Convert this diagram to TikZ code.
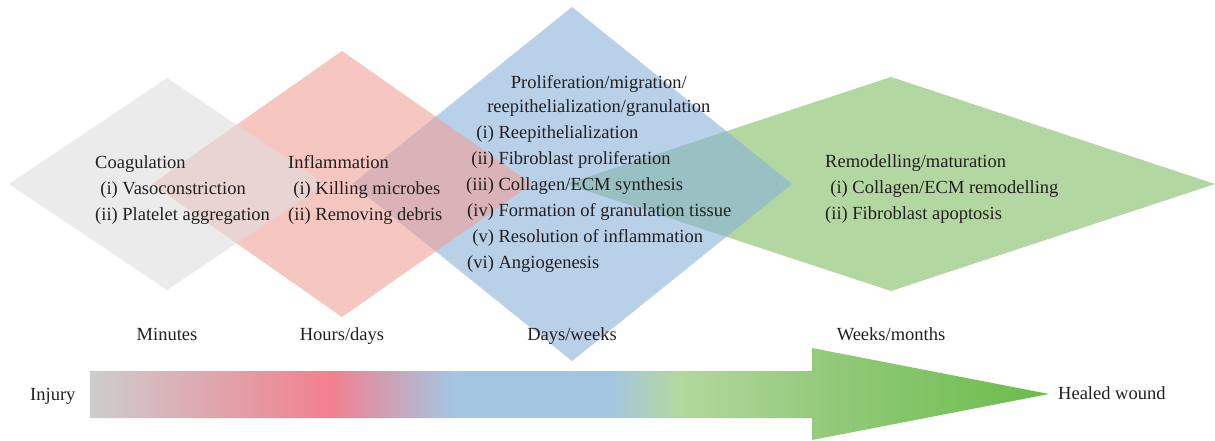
\documentclass[tikz,border=0pt]{standalone}
\usepackage{fontspec}
\setmainfont{Liberation Serif}
\usepackage{tikz}
\definecolor{textDark}{RGB}{35,31,32}
\definecolor{coagColor}{RGB}{222,222,222}
\definecolor{inflamColor}{RGB}{240,160,152}
\definecolor{prolifColor}{RGB}{137,177,217}
\definecolor{remodColor}{RGB}{128,188,96}
\definecolor{barGray}{RGB}{205,205,205}
\definecolor{barPink}{RGB}{242,128,143}
\definecolor{barBlue}{RGB}{163,198,226}
\definecolor{barLight}{RGB}{178,216,156}
\definecolor{barMid}{RGB}{150,203,126}
\definecolor{barGreen}{RGB}{108,189,76}
\pgfdeclarehorizontalshading{healShading}{100bp}{color(0bp)=(barGray); color(25bp)=(barGray);
  color(37.5bp)=(barPink); color(44bp)=(barBlue); color(52bp)=(barBlue); color(55.8bp)=(barLight);
  color(62.6bp)=(barMid); color(74.5bp)=(barGreen); color(100bp)=(barGreen)}

\begin{document}
\begin{tikzpicture}[x=1pt, y=-1pt, font=\fontsize{18.5}{26}\selectfont, text=textDark]
        \tikzset{
           phase/.style={
                        fill opacity=0.6
                       },
           phaseList/.style={
                        anchor=base west,
                        inner sep=0pt
                       },
           timeLabel/.style={
                        anchor=base,
                        inner sep=0pt
                       },
           endLabel/.style={
                        anchor=base west,
                        inner sep=0pt
                       },
                 };
        \useasboundingbox (0,0) rectangle (1215,440);
    %--------------------
        \fill[phase, remodColor]  (566,184) -- (891,77)  -- (1215,184) -- (891,291) -- cycle;
        \fill[phase, prolifColor] (352,184) -- (572,7)   -- (792,184)  -- (572,361) -- cycle;
        \fill[phase, inflamColor] (152,184) -- (342,51)  -- (532,184)  -- (342,317) -- cycle;
        \fill[phase, coagColor]   (9,184)   -- (167,78)  -- (325,184)  -- (167,290) -- cycle;
    %--------------------
        \shade[shading=healShading] (90,371) -- (812,371) -- (812,348) -- (1049,394)
              -- (812,440) -- (812,418) -- (90,418) -- cycle;
    %--------------------
        \node[phaseList] (coagText)   at (95,168)  {\begin{tabular}[t]{@{}r@{\ }l@{}}
                \multicolumn{2}{@{}l@{}}{Coagulation}\\
                (i)  & Vasoconstriction\\
                (ii) & Platelet aggregation
              \end{tabular}};
        \node[phaseList] (inflamText) at (288,168) {\begin{tabular}[t]{@{}r@{\ }l@{}}
                \multicolumn{2}{@{}l@{}}{Inflammation}\\
                (i)  & Killing microbes\\
                (ii) & Removing debris
              \end{tabular}};
        \node[phaseList] (prolifText) at (466,88)  {\begin{tabular}[t]{@{}r@{\ }l@{}}
                \multicolumn{2}{@{}c@{}}{Proliferation/migration/}\\[-2pt]
                \multicolumn{2}{@{}c@{}}{reepithelialization/granulation}\\
                (i)   & Reepithelialization\\
                (ii)  & Fibroblast proliferation\\
                (iii) & Collagen/ECM synthesis\\
                (iv)  & Formation of granulation tissue\\
                (v)   & Resolution of inflammation\\
                (vi)  & Angiogenesis
              \end{tabular}};
        \node[phaseList] (remodText)  at (825,167) {\begin{tabular}[t]{@{}r@{\ }l@{}}
                \multicolumn{2}{@{}l@{}}{Remodelling/maturation}\\
                (i)  & Collagen/ECM remodelling\\
                (ii) & Fibroblast apoptosis
              \end{tabular}};
    %--------------------
        \node[timeLabel] (minutes) at (167,340) {Minutes};
        \node[timeLabel] (hours)   at (342,340) {Hours/days};
        \node[timeLabel] (days)    at (572,340) {Days/weeks};
        \node[timeLabel] (weeks)   at (891,340) {Weeks/months};

        \node[endLabel]  (injury)  at (30,400)   {Injury};
        \node[endLabel]  (healed)  at (1058,399) {Healed wound};
    \end{tikzpicture}
\end{document}
